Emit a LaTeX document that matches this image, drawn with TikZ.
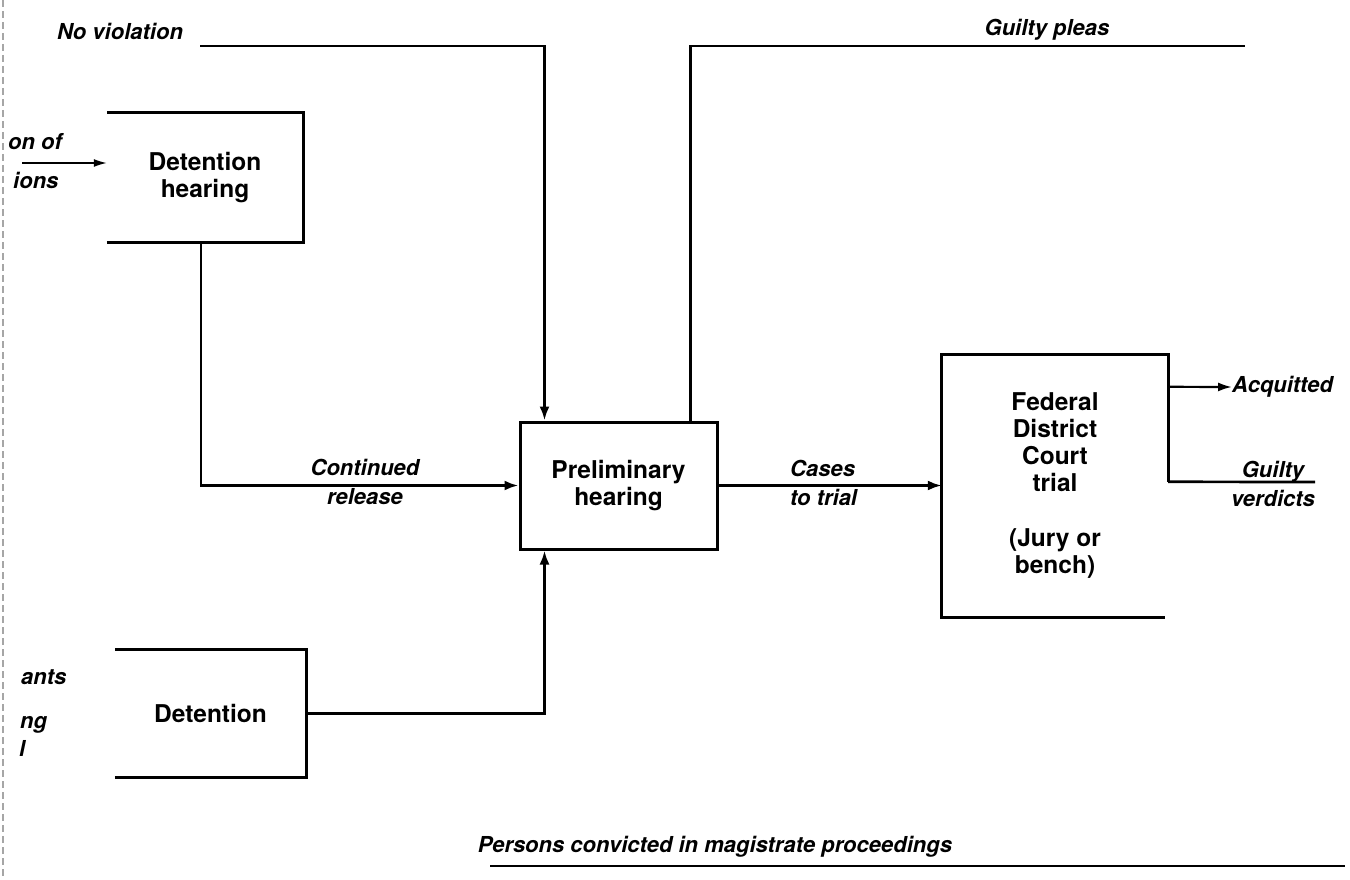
\documentclass[tikz,border=0pt]{standalone}
\usepackage{fontspec}
\setmainfont{TeX Gyre Heros}
\usetikzlibrary{arrows.meta}
\begin{document}
\begin{tikzpicture}[x=1pt,y=-1pt,
  boxtext/.style={font=\fontsize{24.5}{27}\selectfont\bfseries, align=center, inner sep=0pt},
  lab/.style={font=\fontsize{22}{29}\selectfont\bfseries\itshape, inner sep=0pt},
  conn/.style={line width=2.7pt},
  arr/.style={conn, -{Latex[length=14pt,width=10pt]}},
  side/.style={line width=3pt, line join=miter}]
\useasboundingbox (0,0) rectangle (1350,880);

% scan edge
\draw[black!35, line width=1.5pt, dash pattern=on 7pt off 4pt] (3,0) -- (3,880);

% boxes
\node[boxtext, minimum width=196pt, minimum height=129pt] (dh) at (205,177.5) {Detention\\hearing};
\draw[side] (dh.south west) -- (dh.south east) -- (dh.north east) -- (dh.north west);

\node[boxtext, minimum width=191pt, minimum height=127pt] (det) at (210.5,713.5) {Detention};
\draw[side] (det.south west) -- (det.south east) -- (det.north east) -- (det.north west);

\node[boxtext, draw, line width=3pt, minimum width=197pt, minimum height=127pt] (prelim) at (618.5,485.5) {Preliminary\\hearing};

\node[boxtext, minimum width=226pt, minimum height=262pt] (fed) at (1055,486) {Federal\\District\\Court\\trial\\[28pt](Jury or\\bench)};
\draw[side] ([yshift=-127pt]fed.north east) -- (fed.north east) -- (fed.north west) -- (fed.south west) -- ([xshift=-3pt]fed.south east);

% left truncated labels
\node[lab, anchor=west] (l1) at (8,142) {on of};
\node[lab, anchor=west] (l2) at (13,180) {ions};
\node[lab, anchor=west] (l3) at (21,677) {ants};
\node[lab, anchor=west] (l4) at (20,725) {ng};
\node[lab, anchor=west] (l5) at (19,748) {l};

% input into detention hearing
\coordinate (lin) at (22,163);
\draw[line width=1.5pt, -{Latex[length=13pt,width=8pt]}] (lin) -- (lin -| dh.west);

% no violation
\coordinate (nvstart) at (200,46);
\node[lab] (nvlab) at (120,31) {No violation};
\draw[arr] (nvstart) -| ([xshift=26pt]prelim.north west);

% continued release
\draw[arr] ([xshift=-4pt]dh.south) |- (prelim.west);
\node[lab, align=center] (crlab) at (365,482) {Continued\\release};

% detention to preliminary
\draw[arr] (det.east) -| ([xshift=26pt]prelim.south west);

% guilty pleas
\coordinate (gpend) at (1245,46);
\draw[conn] ([xshift=172pt]prelim.north west) |- (gpend);
\node[lab] (gplab) at (1047,30) {Guilty pleas};

% cases to trial
\draw[arr] (prelim.east) -- (prelim.east -| fed.west);
\node[lab, align=left, anchor=west] (ctlab) at (790,483) {Cases\\to trial};

% acquitted
\node[lab, anchor=west] (acq) at (1232,387) {Acquitted};
\draw[line width=2.2pt, -{Latex[length=14pt,width=9pt]}] ([yshift=-32pt]fed.north east) -- (acq.west);

% guilty verdicts
\coordinate (gvend) at (1315,482);
\draw[conn] ([yshift=-127pt]fed.north east) -- (gvend);
\node[lab, align=center] (gvlab) at (1273,484) {Guilty\\verdicts};

% persons convicted
\coordinate (pc1) at (490,866);
\coordinate (pc2) at (1345,866);
\draw[line width=1.8pt] (pc1) -- (pc2);
\node[lab] (pclab) at (715,847) {Persons convicted in magistrate proceedings};
\end{tikzpicture}
\end{document}
